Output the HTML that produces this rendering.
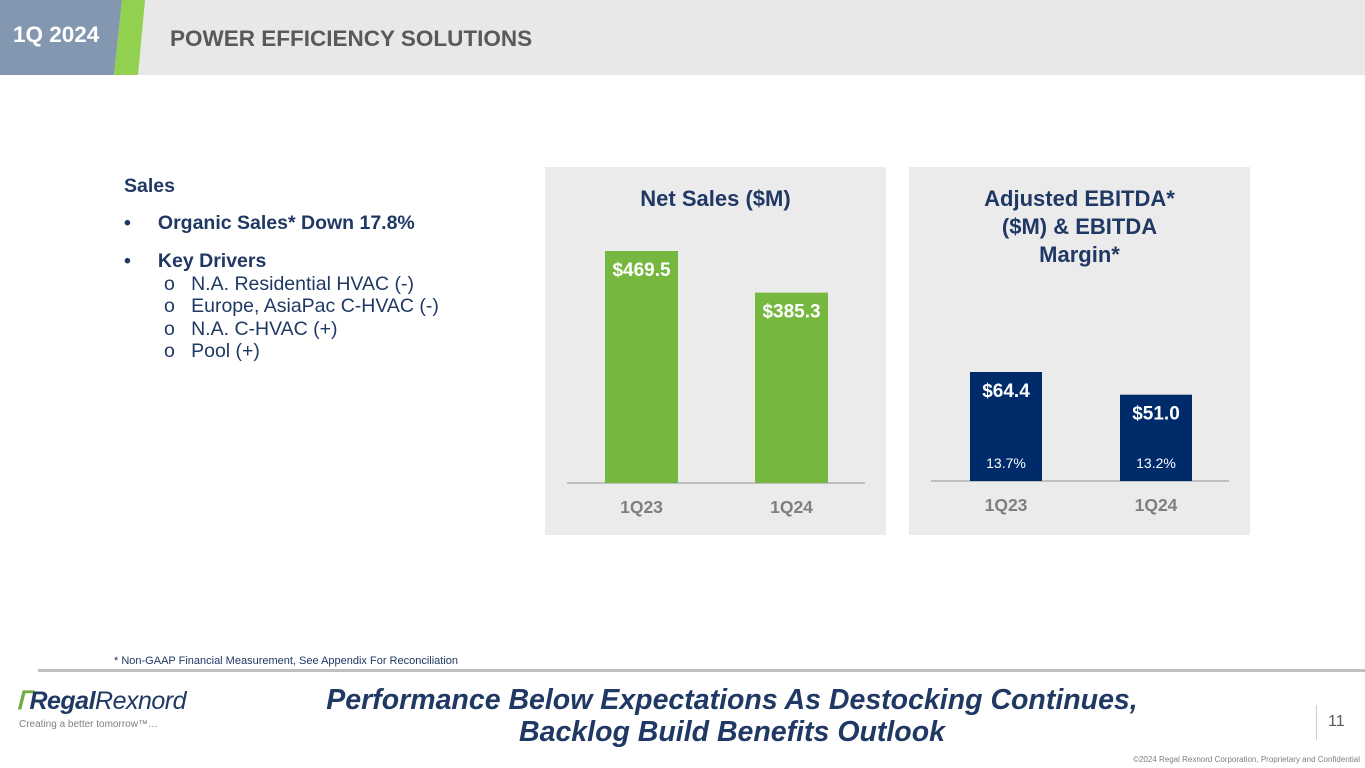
<!DOCTYPE html>
<html><head><meta charset="utf-8"><style>
body{margin:0;width:1365px;height:768px;position:relative;background:#fff;font-family:"Liberation Sans",Arial,sans-serif;overflow:hidden}
.abs{position:absolute}
</style></head><body>
<div class="abs" style="left:0;top:0;width:1365px;height:75px;background:#e8e8e8"></div>
<svg class="abs" style="left:0;top:0" width="160" height="75">
<polygon points="0,0 122,0 114,75 0,75" fill="#8497b0"/>
<polygon points="122,0 145,0 138,75 114,75" fill="#92d050"/>
</svg>
<div class="abs" style="left:13px;top:22px;color:#fff;font-weight:bold;font-size:22.5px">1Q 2024</div>
<div class="abs" style="left:170px;top:26px;color:#595959;font-weight:bold;font-size:22.5px">POWER EFFICIENCY SOLUTIONS</div>

<div class="abs" style="left:124px;top:175px;color:#1f3864;font-size:19.5px;line-height:22.5px">
<div style="font-weight:bold">Sales</div>
<div style="font-weight:bold;margin-top:14px">•&nbsp;&nbsp;&nbsp;&nbsp;&nbsp;Organic Sales* Down 17.8%</div>
<div style="font-weight:bold;margin-top:16px">•&nbsp;&nbsp;&nbsp;&nbsp;&nbsp;Key Drivers</div>
<div style="padding-left:40px">o&nbsp;&nbsp;&nbsp;N.A. Residential HVAC (-)</div>
<div style="padding-left:40px">o&nbsp;&nbsp;&nbsp;Europe, AsiaPac C-HVAC (-)</div>
<div style="padding-left:40px">o&nbsp;&nbsp;&nbsp;N.A. C-HVAC (+)</div>
<div style="padding-left:40px">o&nbsp;&nbsp;&nbsp;Pool (+)</div>
</div>

<div class="abs" style="left:545px;top:167px;width:341px;height:368px;background:#ebebeb"></div>
<div class="abs" style="left:545px;top:186px;width:341px;text-align:center;color:#1f3864;font-weight:bold;font-size:22px">Net Sales ($M)</div>
<div class="abs" style="left:909px;top:167px;width:341px;height:368px;background:#ebebeb"></div>
<div class="abs" style="left:909px;top:185px;width:341px;text-align:center;color:#1f3864;font-weight:bold;font-size:22px;line-height:28px">Adjusted EBITDA*<br>($M) &amp; EBITDA<br>Margin*</div>
<svg id="ch" class="abs" style="left:0;top:0" width="1365" height="768"></svg>

<div class="abs" style="left:114px;top:655px;color:#1f3864;font-size:11px">* Non-GAAP Financial Measurement, See Appendix For Reconciliation</div>
<div class="abs" style="left:38px;top:669px;width:1327px;height:3px;background:#bfbfbf"></div>
<div class="abs" style="left:16px;top:686px;color:#1f3864;font-size:25px;font-style:italic;letter-spacing:-0.5px"><span style="color:#70ad47;font-weight:bold">ᒥ</span><b>Regal</b>Rexnord</div>
<div class="abs" style="left:19px;top:719px;color:#7f7f7f;font-size:10px">Creating a better tomorrow™…</div>
<div class="abs" style="left:182px;top:684px;width:1100px;text-align:center;color:#1f3864;font-weight:bold;font-style:italic;font-size:28.5px;line-height:32px">Performance Below Expectations As Destocking Continues,<br>Backlog Build Benefits Outlook</div>
<div class="abs" style="left:1316px;top:705px;width:1px;height:35px;background:#ccc"></div>
<div class="abs" style="left:1328px;top:713px;color:#595959;font-size:16px">11</div>
<div class="abs" style="left:1050px;top:755px;width:310px;text-align:right;color:#7f7f7f;font-size:8px;white-space:nowrap">©2024 Regal Rexnord Corporation, Proprietary and Confidential</div>

<script>
const categories=["1Q23","1Q24"];
const netSales=[469.5,385.3];
const ebitda=[64.4,51.0];
const margins=["13.7%","13.2%"];
const NS="http://www.w3.org/2000/svg";
const svg=document.getElementById('ch');
function mk(t,a){const e=document.createElementNS(NS,t);for(const k in a)e.setAttribute(k,a[k]);svg.appendChild(e);return e;}
function chart(vals,cfg,name){
  const y=v=>cfg.base-v*cfg.scale;
  const bl=mk('line',{x1:cfg.lx1,x2:cfg.lx2,y1:cfg.base,y2:cfg.base,stroke:'#bfbfbf','stroke-width':2});
  
  
  vals.forEach((v,i)=>{
    const x=cfg.x0+i*cfg.step;
    const r=mk('rect',{x:x,y:y(v),width:cfg.w,height:cfg.base-y(v),fill:cfg.color});
    
    
    const t=mk('text',{x:x+cfg.w/2,y:y(v)+25,'text-anchor':'middle',fill:'#fff','font-weight':'bold','font-size':19});
    t.textContent='$'+v.toFixed(1);
    
    
    const c=mk('text',{x:x+cfg.w/2,y:cfg.base+30,'text-anchor':'middle',fill:'#7f7f7f','font-weight':'bold','font-size':17.5});
    c.textContent=categories[i];
    
    
    if(cfg.pct){
      const p=mk('text',{x:x+cfg.w/2,y:cfg.base-13,'text-anchor':'middle',fill:'#fff','font-size':14});
      p.textContent=cfg.pct[i];
      
      
    }
  });
}
chart(netSales,{base:483,scale:232/469.5,x0:605,step:150,w:73,lx1:567,lx2:865,color:'#76b83f'},'net-sales');
chart(ebitda,{base:481,scale:109/64.4,x0:970,step:150,w:72,lx1:931,lx2:1229,color:'#002b6b',pct:margins},'ebitda');
</script>
</body></html>
